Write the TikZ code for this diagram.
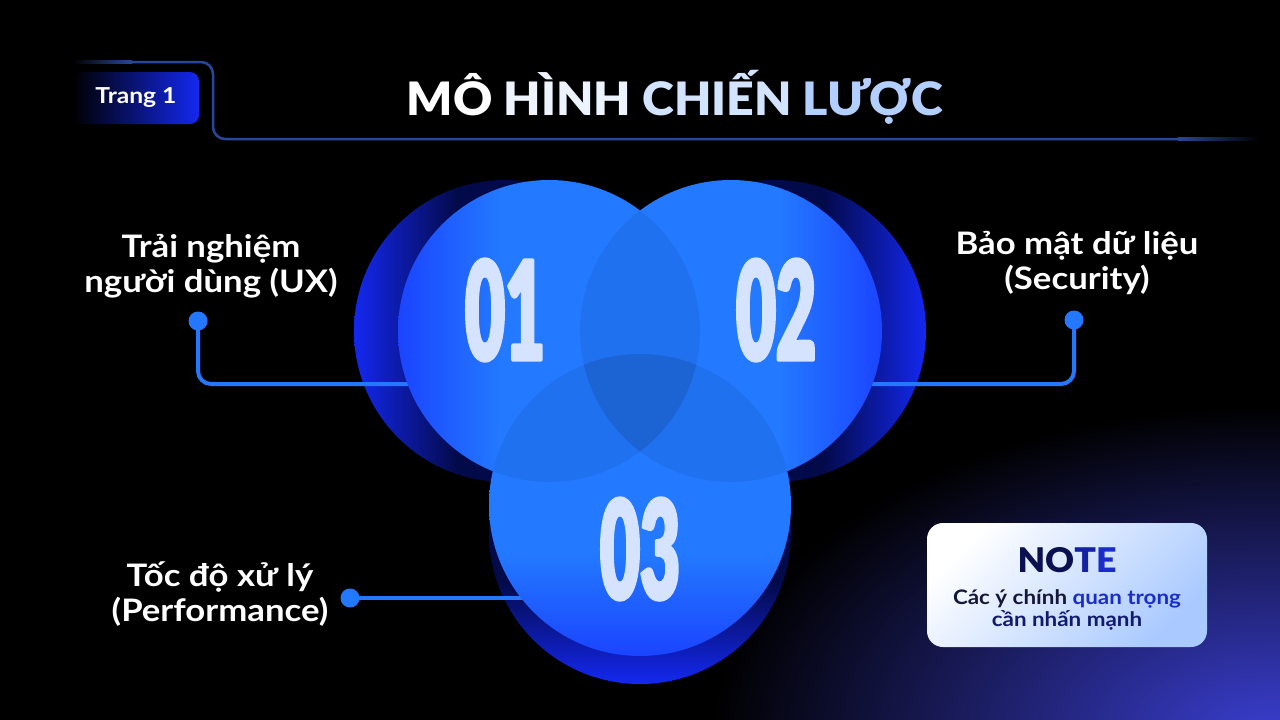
\documentclass[tikz,border=0pt]{standalone}
\usepackage{fontspec}
\setmainfont{Lato}
\newfontfamily\heavy[FakeStretch=1.05]{Lato Black}
\newfontfamily\wide[FakeStretch=1.12]{Lato}
\newfontfamily\numfont[FakeStretch=0.5,FakeBold=2]{Lato Black}
\definecolor{azure}{HTML}{2379FF}
\definecolor{violet}{HTML}{1B44FF}
\definecolor{deep}{HTML}{1428F0}
\definecolor{navy}{HTML}{030A4A}
\definecolor{rim}{HTML}{27489A}
\definecolor{wire}{HTML}{2478FF}
\definecolor{glow}{HTML}{3A3ECF}
\definecolor{pale}{HTML}{A9C9FF}
\definecolor{ink}{HTML}{0B1050}
\definecolor{inkblue}{HTML}{1A2DC8}
\definecolor{digit}{HTML}{D6E3FF}
\pgfdeclarehorizontalshading{fadeR}{100bp}{color(0bp)=(deep); color(25bp)=(deep); color(42bp)=(navy); color(100bp)=(navy)}
\pgfdeclarehorizontalshading{fadeL}{100bp}{color(0bp)=(navy); color(58bp)=(navy); color(75bp)=(deep); color(100bp)=(deep)}
\pgfdeclareverticalshading{fadeD}{100bp}{color(0bp)=(deep); color(25bp)=(deep); color(42bp)=(navy); color(100bp)=(navy)}
\pgfdeclarehorizontalshading{litR}{100bp}{color(0bp)=(violet); color(25bp)=(violet); color(42bp)=(azure); color(100bp)=(azure)}
\pgfdeclarehorizontalshading{litL}{100bp}{color(0bp)=(azure); color(58bp)=(azure); color(75bp)=(violet); color(100bp)=(violet)}
\pgfdeclareverticalshading{litD}{100bp}{color(0bp)=(violet); color(25bp)=(violet); color(42bp)=(azure); color(100bp)=(azure)}
\begin{document}
\begin{tikzpicture}[x=1pt, y=-1pt, line join=round, line cap=round,
	disc/.style={circle, inner sep=0pt, outer sep=0pt, minimum size=302pt, shade},
	dot/.style={circle, fill=wire, inner sep=0pt, minimum size=19pt},
	wirel/.style={wire, line width=4pt, rounded corners=13pt},
	label/.style={white, align=center, font=\wide\bfseries\fontsize{31}{35}\selectfont},
	num/.style={digit, font=\numfont\fontsize{138}{138}\selectfont},
	tag/.style={rounded corners=9pt, left color=black, right color=deep,
		minimum width=126pt, minimum height=52pt, text=white,
		font=\wide\bfseries\fontsize{22}{26}\selectfont},
	note/.style={rounded corners=16pt, top color=white, bottom color=pale,
		shading angle=45, minimum width=280pt, minimum height=124pt}]
	\def\r{151}
	\useasboundingbox (0,0) rectangle (1280,720);
	\fill[black] (0,0) rectangle (1280,720);
	\begin{scope}
		\clip (0,0) rectangle (1280,720);
		\shade[inner color=glow, outer color=black] (1270,735) ellipse (560pt and 330pt);
	\end{scope}
	\path 
	(505,331) coordinate (B1)
	(775,331) coordinate (B2)
	(640,533) coordinate (B3)
	(549,331) coordinate (O1)
	(731,331) coordinate (O2)
	(640,505) coordinate (O3);
	\draw[rim, line width=2.5pt, rounded corners=12pt] 
	(130,62) -- (213,62) -- (213,139) -- (1180,139);
	\shade[left color=black, right color=rim] (73,60.75) rectangle (132,63.25);
	\shade[left color=rim, right color=black] (1178,137.75) rectangle (1258,140.25);
	\node[tag] (tag) at (136,98) {Trang 1};
	\node[anchor=base, font=\heavy\fontsize{46}{50}\selectfont] (title) at (675,115) 
	{\textcolor{white}{MÔ} \textcolor[HTML]{EDF4FF}{HÌNH} 
		\textcolor[HTML]{D2E4FF}{CHIẾN} \textcolor[HTML]{B2CFFF}{LƯỢC}};
	\shade[shading=fadeR] (B1) circle (\r pt);
	\shade[shading=fadeL] (B2) circle (\r pt);
	\shade[shading=fadeD] (B3) circle (\r pt);
	\node[dot] (d1) at (198,321) {};
	\node[dot] (d2) at (1074,320) {};
	\node[dot] (d3) at (350,598) {};
	\coordinate (e1) at (440,384);
	\coordinate (e2) at (840,384);
	\coordinate (e3) at (560,598);
	\draw[wirel] (d1) |- (e1);
	\draw[wirel] (d2) |- (e2);
	\draw[wirel] (d3) -- (e3);
	\node[disc, shading=litR] (c1) at (O1) {};
	\node[disc, shading=litL] (c2) at (O2) {};
	\node[disc, shading=litD] (c3) at (O3) {};
	\foreach \p/\q in {O1/O2,O1/O3,O2/O3}{
		\begin{scope}
			\clip (\p) circle (\r pt);
			\fill[black, opacity=.06] (\q) circle (\r pt);
		\end{scope}
	}
	\foreach \n/\p/\t in {n1/{(505,310)}/01,n2/{(776,310)}/02,n3/{(640,549)}/03}
	\node[num] (\n) at \p {\t};
	\node[label] (ux) at (211,266) {Trải nghiệm\\người dùng (UX)};
	\node[label] (sec) at (1077,263) {Bảo mật dữ liệu\\(Security)};
	\node[label] (perf) at (220,594) {Tốc độ xử lý\\(Performance)};
	\node[note] (note) at (1067,585) {};
	\node[font=\heavy\fontsize{34}{36}\selectfont] (notehead) at (1067,560) 
	{\textcolor{ink}{NO}\textcolor[HTML]{1423A0}{T}\textcolor{inkblue}{E}};
	\node[align=center, font=\wide\bfseries\fontsize{20}{22}\selectfont] (notebody) at (1067,610) 
	{\textcolor[HTML]{15163A}{Các ý chính} \textcolor{inkblue}{quan trọng}\\
		\textcolor[HTML]{121A70}{cần nhấn mạnh}};
\end{tikzpicture}
\end{document}
